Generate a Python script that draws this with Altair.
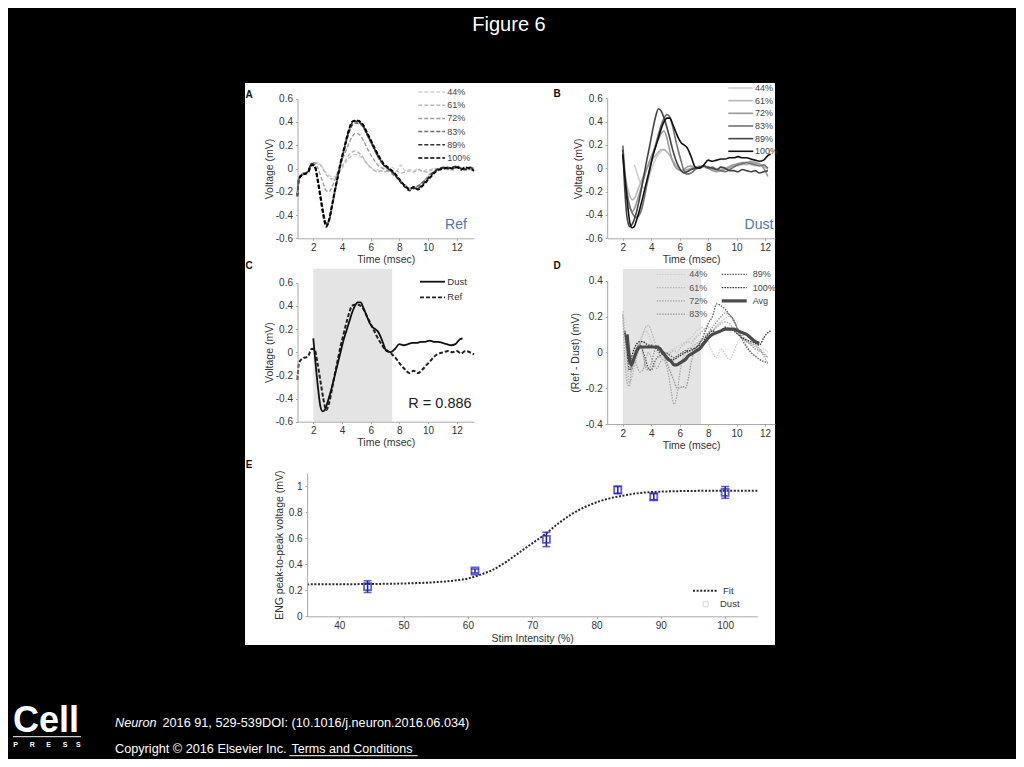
import altair as alt
import pandas as pd

FONT = "Liberation Sans"
W, H = 1008, 751
M = 8

# ---------------- data ----------------
intensities = ["44%", "61%", "72%", "83%", "89%", "100%"]

# Panel A (Ref) - shared time grid (msec)
ref_time = [0.9, 1.0, 1.3, 1.6, 1.9,
            2.1, 2.3, 2.5, 2.7, 2.9, 3.1, 3.3, 3.5, 3.7, 3.9, 4.1, 4.3, 4.5, 4.7, 4.9,
            5.1, 5.3, 5.5, 5.7, 5.9, 6.1, 6.3, 6.5, 6.7, 6.9,
            7.2, 7.5, 7.8, 8.1, 8.4, 8.7, 9.0, 9.3, 9.6, 9.9, 10.2, 10.5, 10.8, 11.1,
            11.4, 11.7, 12.0, 12.3, 12.6, 12.9, 13.2]
ref_44 = [-0.18, -0.07, -0.04, -0.03, 0.04,
          0.05, 0.04, 0.03, 0.0, -0.04, -0.06, -0.07, -0.07, -0.05, -0.02, 0.02, 0.06, 0.09, 0.11, 0.12,
          0.12, 0.1, 0.08, 0.05, 0.02, 0.0, -0.02, -0.01, -0.03, -0.01,
          -0.02, 0.01, -0.02, 0.03, -0.02, -0.01, -0.02, 0.0, -0.03, -0.01, -0.02, 0.0, -0.01, 0.01,
          0.0, -0.02, 0.01, 0.0, 0.02, -0.01, 0.01]
ref_61 = [-0.19, -0.08, -0.04, -0.03, 0.05,
          0.05, 0.05, 0.03, -0.01, -0.05, -0.08, -0.09, -0.08, -0.05, -0.01, 0.04, 0.08, 0.12, 0.14, 0.15,
          0.14, 0.12, 0.09, 0.05, 0.02, 0.0, -0.02, -0.03, -0.02, -0.03,
          -0.02, -0.03, -0.02, -0.04, -0.03, -0.02, -0.03, -0.01, -0.02, -0.03, -0.01, 0.0, -0.02, 0.01,
          -0.01, 0.0, 0.02, -0.01, 0.01, 0.0, -0.01]
ref_72 = [-0.2, -0.08, -0.04, -0.03, 0.05,
          0.05, 0.01, -0.06, -0.13, -0.19, -0.2, -0.16, -0.1, -0.03, 0.04, 0.1, 0.16, 0.22, 0.27, 0.3,
          0.3, 0.28, 0.24, 0.19, 0.14, 0.1, 0.06, 0.03, 0.01, 0.0,
          -0.02, -0.05, -0.08, -0.11, -0.14, -0.17, -0.17, -0.15, -0.12, -0.08, -0.04, -0.02, 0.0, 0.0,
          -0.01, 0.0, 0.01, 0.0, 0.0, -0.01, 0.0]
ref_83 = [-0.22, -0.08, -0.05, -0.03, 0.04,
          0.03, -0.08, -0.22, -0.37, -0.47, -0.44, -0.33, -0.2, -0.08, 0.03, 0.13, 0.23, 0.31, 0.37, 0.39,
          0.39, 0.38, 0.35, 0.3, 0.25, 0.2, 0.15, 0.1, 0.06, 0.03,
          0.0, -0.03, -0.07, -0.11, -0.15, -0.17, -0.16, -0.15, -0.12, -0.09, -0.05, -0.02, 0.0, 0.0,
          0.01, 0.0, 0.01, 0.0, 0.0, 0.01, -0.01]
ref_89 = [-0.23, -0.08, -0.05, -0.03, 0.04,
          0.02, -0.09, -0.24, -0.39, -0.49, -0.45, -0.33, -0.2, -0.08, 0.04, 0.14, 0.24, 0.33, 0.39, 0.41,
          0.4, 0.39, 0.36, 0.31, 0.26, 0.21, 0.16, 0.11, 0.07, 0.03,
          0.0, -0.03, -0.07, -0.12, -0.16, -0.19, -0.17, -0.17, -0.14, -0.1, -0.06, -0.02, 0.0, 0.01,
          0.0, 0.01, 0.02, 0.0, -0.01, 0.01, 0.0]
ref_100 = [-0.24, -0.09, -0.05, -0.04, 0.03,
           0.02, -0.1, -0.25, -0.4, -0.5, -0.44, -0.32, -0.19, -0.07, 0.05, 0.15, 0.25, 0.34, 0.4, 0.41,
           0.41, 0.4, 0.37, 0.32, 0.27, 0.22, 0.17, 0.12, 0.08, 0.04,
           0.01, -0.02, -0.06, -0.11, -0.15, -0.18, -0.16, -0.18, -0.15, -0.11, -0.07, -0.03, -0.01, 0.0,
           0.01, 0.0, 0.01, -0.01, 0.01, 0.0, -0.02]

# Panel B (Dust)
dust_time = [2.0, 2.1, 2.2, 2.35, 2.5, 2.65, 2.8, 2.95,
             3.1, 3.3, 3.5, 3.7, 3.9, 4.1, 4.3, 4.5, 4.7, 4.9, 5.1, 5.3, 5.5, 5.7, 5.9, 6.1, 6.3, 6.5,
             6.8, 7.1, 7.4, 7.7, 8.0, 8.3, 8.6, 8.9, 9.2, 9.5, 9.8, 10.1, 10.4, 10.7, 11.0, 11.3, 11.6,
             11.9, 12.2, 12.4]
dust_44 = [None, None, None, None, None, None, 0.03, -0.02,
           -0.08, -0.14, -0.17, -0.13, -0.05, 0.02, 0.08, 0.12, 0.15, 0.16, 0.14, 0.11, 0.07, 0.03, 0.0, -0.02, -0.03, -0.02,
           0.0, 0.01, 0.02, 0.02, 0.0, -0.01, -0.02, -0.01, 0.0, 0.02, 0.03, 0.02, 0.03, 0.04, 0.03, 0.02, 0.03,
           0.01, 0.0, None]
dust_61 = [0.2, 0.05, -0.08, -0.18, -0.24, -0.27, -0.26, -0.22,
           -0.17, -0.11, -0.05, 0.0, 0.04, 0.08, 0.11, 0.14, 0.16, 0.16, 0.14, 0.11, 0.07, 0.03, 0.0, -0.02, -0.02, -0.01,
           0.0, 0.01, 0.02, 0.01, 0.0, -0.01, -0.02, -0.01, 0.0, 0.01, 0.02, 0.03, 0.04, 0.03, 0.05, 0.04, 0.03,
           0.02, -0.01, None]
dust_72 = [0.1, -0.03, -0.14, -0.26, -0.34, -0.37, -0.35, -0.3,
           -0.24, -0.16, -0.08, 0.0, 0.07, 0.13, 0.19, 0.25, 0.3, 0.32, 0.26, 0.15, 0.06, 0.01, -0.01, -0.02, -0.01, 0.01,
           0.02, 0.0, 0.01, 0.02, 0.0, -0.02, -0.03, -0.02, -0.01, 0.01, 0.03, 0.04, 0.05, 0.05, 0.06, 0.05, 0.04,
           0.0, -0.07, None]
dust_83 = [0.19, 0.0, -0.12, -0.25, -0.33, -0.38, -0.41, -0.42,
           -0.41, -0.36, -0.26, -0.13, -0.01, 0.1, 0.2, 0.29, 0.37, 0.43, 0.46, 0.44, 0.36, 0.25, 0.15, 0.06, -0.02, -0.05,
           -0.04, -0.01, 0.01, 0.02, 0.0, 0.01, -0.01, -0.02, -0.03, -0.01, 0.01, 0.03, 0.04, 0.05, 0.04, 0.03, 0.02,
           0.03, 0.0, None]
dust_89 = [0.16, -0.1, -0.3, -0.46, -0.5, -0.48, -0.44, -0.38,
           -0.3, -0.18, -0.05, 0.08, 0.2, 0.33, 0.44, 0.51, 0.49, 0.43, 0.35, 0.26, 0.16, 0.08, 0.02, -0.02, -0.04, -0.03,
           -0.01, 0.0, 0.01, 0.02, 0.01, 0.0, -0.01, 0.01, 0.0, -0.02, -0.02, -0.03, -0.01, -0.02, -0.03, -0.02, -0.04,
           -0.03, -0.02, None]
dust_100 = [0.12, -0.02, -0.15, -0.33, -0.47, -0.51, -0.5, -0.45,
            -0.39, -0.3, -0.2, -0.1, 0.0, 0.1, 0.18, 0.26, 0.34, 0.4, 0.43, 0.43, 0.38, 0.32, 0.26, 0.22, 0.2, 0.18,
            0.1, 0.01, 0.0, 0.03, 0.07, 0.06, 0.07, 0.08, 0.08, 0.09, 0.09, 0.1, 0.09, 0.09, 0.08, 0.07, 0.06,
            0.07, 0.11, 0.12]

# Panel D (Ref - Dust)
diff_time = [2.0, 2.15, 2.3, 2.45, 2.6,
             2.8, 3.0, 3.2, 3.4, 3.6, 3.8, 4.0, 4.2, 4.4, 4.6, 4.8, 5.0, 5.2, 5.4, 5.6, 5.8, 6.0, 6.2, 6.4,
             6.6, 6.8, 7.0, 7.2, 7.4, 7.6, 7.8, 8.0,
             8.3, 8.6, 8.9, 9.2, 9.5, 9.8, 10.1, 10.4, 10.7, 11.0, 11.3, 11.6, 11.9, 12.2, 12.4]
diff_44 = [0.2, 0.08, -0.05, -0.12, -0.1,
           -0.04, 0.02, 0.06, 0.1, 0.12, 0.1, 0.06, 0.03, 0.0, -0.02, -0.03, -0.01, 0.0, 0.01, 0.02, 0.03, 0.04, 0.05, 0.06,
           0.07, 0.08, 0.1, 0.12, 0.13, 0.14, 0.12, 0.06,
           0.0, -0.03, 0.02, -0.01, -0.04, 0.0, 0.06, 0.08, 0.04, 0.0, -0.02, 0.01, 0.02, 0.0, None]
diff_61 = [0.23, 0.1, -0.06, -0.17, -0.15,
           -0.08, -0.02, 0.04, 0.1, 0.14, 0.15, 0.12, 0.07, 0.02, -0.02, -0.04, -0.03, -0.01, 0.0, 0.01, 0.0, 0.02, 0.04, 0.05,
           0.06, 0.05, 0.07, 0.09, 0.1, 0.12, 0.13, 0.14,
           0.12, 0.15, 0.17, 0.19, 0.2, 0.17, 0.13, 0.1, 0.07, 0.05, 0.03, 0.02, 0.0, -0.03, None]
diff_72 = [0.21, -0.05, -0.17, -0.19, -0.1,
           -0.04, -0.08, -0.11, -0.1, -0.04, 0.0, -0.03, -0.07, -0.09, -0.06, -0.04, -0.06, -0.12, -0.22, -0.29, -0.24, -0.12, -0.04, 0.0,
           0.02, 0.03, 0.04, 0.05, 0.06, 0.07, 0.08, 0.1,
           0.12, 0.14, 0.16, 0.17, 0.16, 0.13, 0.1, 0.08, 0.06, 0.05, 0.04, 0.02, -0.02, -0.06, None]
diff_83 = [None, 0.1, 0.02, -0.06, -0.1,
           -0.05, 0.02, 0.05, 0.0, -0.08, -0.1, -0.06, 0.0, 0.04, 0.03, 0.0, -0.04, -0.08, -0.12, -0.16, -0.2, -0.2, -0.19, -0.2,
           -0.15, -0.06, 0.0, 0.03, 0.05, 0.07, 0.09, 0.11,
           0.14, 0.17, 0.2, 0.22, 0.21, 0.18, 0.13, 0.09, 0.06, 0.04, 0.02, 0.01, -0.01, -0.03, None]
diff_89 = [None, 0.12, 0.0, -0.1, -0.08,
           -0.02, 0.03, 0.04, 0.01, -0.04, -0.09, -0.1, -0.06, -0.03, -0.02, -0.01, 0.0, -0.01, -0.02, -0.03, -0.02, -0.01, 0.0, 0.01,
           0.0, 0.02, 0.02, 0.03, 0.05, 0.08, 0.12, 0.16,
           0.2, 0.27, 0.26, 0.24, 0.21, 0.18, 0.12, 0.07, 0.03, 0.0, -0.02, -0.04, -0.05, -0.06, None]
diff_100 = [None, 0.11, 0.02, -0.06, -0.03,
            0.02, 0.05, 0.06, 0.06, 0.05, 0.04, 0.04, 0.03, 0.02, 0.0, -0.01, -0.02, -0.03, -0.04, -0.04, -0.03, -0.02, -0.01, 0.0,
            0.01, 0.01, 0.02, 0.03, 0.04, 0.05, 0.08, 0.1,
            0.12, 0.11, 0.12, 0.14, 0.13, 0.12, 0.1, 0.08, 0.07, 0.06, 0.05, 0.04, 0.08, 0.11, 0.12]
diff_avg = [None, None, 0.1, -0.02, -0.07,
            -0.03, 0.01, 0.03, 0.03, 0.03, 0.03, 0.03, 0.03, 0.03, 0.02, 0.0, -0.02, -0.04, -0.05, -0.07, -0.07, -0.06, -0.05, -0.04,
            -0.02, -0.01, 0.0, 0.01, 0.02, 0.04, 0.06, 0.08,
            0.1, 0.11, 0.12, 0.13, 0.13, 0.13, 0.12, 0.11, 0.1, 0.08, 0.06, 0.05, None, None, None]

shade_window = [2.0, 7.5]

# Panel E
stim = [44.4, 61.1, 72.2, 83.3, 88.9, 100.0]
amp = [0.228, 0.348, 0.59, 0.97, 0.918, 0.951]
amp_err = [0.045, 0.015, 0.055, 0.028, 0.023, 0.045]
fit_x = [35, 40, 45, 50, 55, 58, 60, 62, 64, 66, 68, 70, 72, 74, 76, 78, 80, 82, 84, 86, 88, 90, 93, 96, 100, 105]
fit_y = [0.245, 0.246, 0.248, 0.252, 0.262, 0.275, 0.29, 0.32, 0.36, 0.42, 0.49, 0.56, 0.63, 0.71, 0.78, 0.835,
         0.875, 0.905, 0.925, 0.942, 0.952, 0.957, 0.961, 0.963, 0.964, 0.964]

# ---------------- helpers ----------------
ONE = pd.DataFrame({"k": [0]})


def px(v):
    return v - M


def txt(x, y, s, size, color="#333333", align="left", weight="normal", style="normal", baseline="middle"):
    return alt.Chart(ONE).mark_text(
        text=s, fontSize=size, color=color, align=align, baseline=baseline,
        fontWeight=weight, fontStyle=style, font=FONT
    ).encode(x=alt.value(px(x)), y=alt.value(px(y)))


def hseg(x0, x1, y, color, width=1.0, dash=None):
    kw = dict(color=color, strokeWidth=width)
    if dash:
        kw["strokeDash"] = dash
    return alt.Chart(ONE).mark_rule(**kw).encode(
        x=alt.value(px(x0)), x2=alt.value(px(x1)), y=alt.value(px(y)))


def sc(domain, r0, r1):
    return alt.Scale(domain=domain, range=[px(r0), px(r1)], nice=False, zero=False)


AX = dict(grid=False, domainColor="#a8a8a8", tickColor="#a8a8a8", tickSize=2, zindex=1,
          labelFont=FONT, labelFontSize=10, labelColor="#333333", labelFlush=False,
          titleFont=FONT, titleFontSize=10.5, titleFontWeight="normal", titleColor="#333333",
          format=".2~f", labelExpr="replace(datum.label, '\u2212', '-')")


def xaxis(ypage, values, title, tpad=2):
    return alt.Axis(orient="bottom", offset=px(ypage) - H, values=values, title=title,
                    titlePadding=tpad, labelPadding=2, **AX)


def yaxis(xpage, values, title, tpad=1):
    return alt.Axis(orient="left", offset=-px(xpage), values=values, title=title,
                    titlePadding=tpad, labelPadding=3, **AX)


def line_layer(t, v, xs, ys, color, width, xa, ya, dash=None, interp="monotone"):
    df = pd.DataFrame({"t": t, "v": v})
    kw = dict(color=color, strokeWidth=width, interpolate=interp)
    if dash:
        kw["strokeDash"] = dash
    return alt.Chart(df).mark_line(**kw).encode(
        x=alt.X("t:Q", scale=xs, axis=xa),
        y=alt.Y("v:Q", scale=ys, axis=ya))


def shade_layer(xs, ys, y0, y1, xa, ya):
    df = pd.DataFrame({"t": [shade_window[0]], "t1": [shade_window[1]], "v": [y0], "v1": [y1]})
    return alt.Chart(df).mark_rect(color="#e4e4e4").encode(
        x=alt.X("t:Q", scale=xs, axis=xa), x2="t1:Q",
        y=alt.Y("v:Q", scale=ys, axis=ya), y2="v1:Q")


volt_ticks = [-0.6, -0.4, -0.2, 0, 0.2, 0.4, 0.6]
time_ticks = [2, 4, 6, 8, 10, 12]

# ---------------- panel A ----------------
sxA = sc([0.9, 13.2], 297.5, 474.0)
syA = sc([-0.6, 0.6], 238.3, 98.7)
xaA = xaxis(238.3, time_ticks, "Time (msec)")
yaA = yaxis(297.5, volt_ticks, "Voltage (mV)", 1)
ref_series = [ref_44, ref_61, ref_72, ref_83, ref_89, ref_100]
A_colors = ["#cfcfcf", "#b8b8b8", "#9c9c9c", "#6c6c6c", "#333333", "#000000"]
A_widths = [1.4, 1.4, 1.4, 1.6, 1.8, 2.0]
panelA = alt.layer(*[
    line_layer(ref_time, s, sxA, syA, A_colors[i], A_widths[i], xaA, yaA, dash=[4, 2])
    for i, s in enumerate(ref_series)])

# ---------------- panel B ----------------
sxB = sc([0.9, 12.7], 607.2, 775.0)
syB = sc([-0.6, 0.6], 238.3, 98.3)
xaB = xaxis(238.3, time_ticks, "Time (msec)")
yaB = yaxis(607.2, volt_ticks, "Voltage (mV)", 1.5)
dust_series = [dust_44, dust_61, dust_72, dust_83, dust_89, dust_100]
B_colors = ["#cfcfcf", "#b6b6b6", "#9a9a9a", "#727272", "#444444", "#111111"]
panelB = alt.layer(*[
    line_layer(dust_time, s, sxB, syB, B_colors[i], 1.6, xaB, yaB)
    for i, s in enumerate(dust_series)])

# ---------------- panel C ----------------
sxC = sc([0.9, 13.2], 297.5, 474.0)
syC = sc([-0.6, 0.6], 421.7, 282.7)
xaC = xaxis(421.7, time_ticks, "Time (msec)")
yaC = yaxis(297.5, volt_ticks, "Voltage (mV)", 1)
panelC = alt.layer(
    shade_layer(sxC, syC, -0.6, 0.72, xaC, yaC),
    line_layer(ref_time, ref_100, sxC, syC, "#222222", 2.0, xaC, yaC, dash=[4, 2]),
    line_layer(dust_time, dust_100, sxC, syC, "#111111", 1.8, xaC, yaC),
)

# ---------------- panel D ----------------
sxD = sc([0.9, 12.7], 607.2, 775.0)
syD = sc([-0.4, 0.4], 424.0, 280.7)
xaD = xaxis(424.0, time_ticks, "Time (msec)")
yaD = yaxis(607.2, [-0.4, -0.2, 0, 0.2, 0.4], "(Ref - Dust) (mV)", 4.5)
diff_series = [diff_44, diff_61, diff_72, diff_83, diff_89, diff_100]
D_colors = ["#cccccc", "#bbbbbb", "#a9a9a9", "#979797", "#5a5a5a", "#2a2a2a"]
layersD = [shade_layer(sxD, syD, -0.4, 0.465, xaD, yaD)]
for i, s in enumerate(diff_series):
    layersD.append(line_layer(diff_time, s, sxD, syD, D_colors[i], 1.3, xaD, yaD, dash=[1.5, 1.2]))
layersD.append(line_layer(diff_time, diff_avg, sxD, syD, "#4a4a4a", 3.2, xaD, yaD))
panelD = alt.layer(*layersD)

# ---------------- panel E ----------------
sxE = sc([35, 105], 307.15, 757.3)
syE = sc([0, 1.1], 616.3, 473.0)
xaE = xaxis(616.3, [40, 50, 60, 70, 80, 90, 100], "Stim Intensity (%)", 3)
yaE = yaxis(307.15, [0, 0.2, 0.4, 0.6, 0.8, 1], "ENG peak-to-peak voltage (mV)", 4)
dfE = pd.DataFrame({"t": stim, "v": amp, "err": amp_err})
dfE["lo"] = dfE["v"] - dfE["err"]
dfE["hi"] = dfE["v"] + dfE["err"]
BLUE = "#1f1fc4"
fitE = line_layer(fit_x, fit_y, sxE, syE, "#2a2a2a", 2.0, xaE, yaE, dash=[2, 1.6])
barsE = alt.Chart(dfE).mark_rule(color=BLUE, strokeWidth=1.6).encode(
    x=alt.X("t:Q", scale=sxE, axis=xaE),
    y=alt.Y("lo:Q", scale=syE, axis=yaE), y2="hi:Q")
capLo = alt.Chart(dfE).mark_tick(color=BLUE, orient="horizontal", size=8, thickness=1.6).encode(
    x=alt.X("t:Q", scale=sxE, axis=xaE), y=alt.Y("lo:Q", scale=syE, axis=yaE))
capHi = alt.Chart(dfE).mark_tick(color=BLUE, orient="horizontal", size=8, thickness=1.6).encode(
    x=alt.X("t:Q", scale=sxE, axis=xaE), y=alt.Y("hi:Q", scale=syE, axis=yaE))
ptsE = alt.Chart(dfE).mark_point(shape="square", filled=False, size=50, strokeWidth=1.8, color=BLUE).encode(
    x=alt.X("t:Q", scale=sxE, axis=xaE), y=alt.Y("v:Q", scale=syE, axis=yaE))
panelE = alt.layer(fitE, barsE, capLo, capHi, ptsE)

# ---------------- decorations ----------------
bg = alt.Chart(ONE).mark_rect(color="white").encode(
    x=alt.value(px(245)), x2=alt.value(px(775)), y=alt.value(px(83)), y2=alt.value(px(645)))

deco = [
    txt(509, 24.5, "Figure 6", 20, color="white", align="center"),
    txt(13, 732, "Cell", 36, color="white", weight="bold", baseline="alphabetic"),
    hseg(13, 81, 736.7, "white", 1.0),
    txt(115, 723.3, "Neuron", 12.7, color="white", style="italic"),
    txt(162.5, 723.3, "2016 91, 529-539DOI: (10.1016/j.neuron.2016.06.034)", 12.7, color="white"),
    txt(115, 749, "Copyright \u00a9 2016 Elsevier Inc.", 12.7, color="white"),
    txt(291.5, 749, "Terms and Conditions", 12.5, color="white"),
    hseg(289.3, 417.7, 755.7, "white", 1.0),
]
for letter, lx in zip(["P", "R", "E", "S", "S"], [15.7, 32.3, 48.7, 65.0, 78.3]):
    deco.append(txt(lx, 745, letter, 7, color="white", align="center", weight="bold"))

labels = [
    txt(249, 94.5, "A", 10, color="#111111", align="center", weight="bold"),
    txt(557, 94, "B", 10, color="#111111", align="center", weight="bold"),
    txt(249, 266, "C", 10, color="#111111", align="center", weight="bold"),
    txt(557, 266, "D", 10, color="#111111", align="center", weight="bold"),
    txt(249, 465, "E", 10, color="#111111", align="center", weight="bold"),
    txt(456, 225, "Ref", 14, color="#4f74b8", align="center"),
    txt(759, 225, "Dust", 14, color="#4f74b8", align="center"),
    txt(440, 404, "R = 0.886", 14.5, color="#222222", align="center"),
]

legends = []
for i, lab in enumerate(intensities):
    ya_ = 92 + 13.2 * i
    legends.append(hseg(418.3, 445, ya_, A_colors[i], 1.5, [4, 2]))
    legends.append(txt(447.3, ya_, lab, 9, color="#444444"))
    yb_ = 88 + 12.66 * i
    legends.append(hseg(728.3, 753.3, yb_, B_colors[i], 1.6))
    legends.append(txt(755.0, yb_, lab, 9, color="#444444"))
legends += [
    hseg(420, 445, 281.7, "#111111", 1.8),
    txt(447.3, 281.7, "Dust", 9.5, color="#333333"),
    hseg(420, 445, 297.3, "#222222", 1.8, [4, 2]),
    txt(447.3, 297.3, "Ref", 9.5, color="#333333"),
]
for i in range(4):
    yd = 274.3 + 13.3 * i
    legends.append(hseg(656.7, 685, yd, D_colors[i], 1.2, [1.5, 1.2]))
    legends.append(txt(689.3, yd, intensities[i], 9, color="#555555"))
for j, lab in enumerate(["89%", "100%", "Avg"]):
    yd = 274.3 + 13.3 * j
    if lab == "Avg":
        legends.append(hseg(721.7, 746.7, yd, "#4a4a4a", 3.2))
    else:
        legends.append(hseg(721.7, 746.7, yd, D_colors[4 + j], 1.2, [1.5, 1.2]))
    legends.append(txt(752.7, yd, lab, 9, color="#444444"))
legends += [
    hseg(693, 718, 590.7, "#2a2a2a", 2.0, [2, 1.6]),
    txt(723, 590.7, "Fit", 9.5, color="#333333"),
    alt.Chart(ONE).mark_point(shape="square", filled=False, size=24, strokeWidth=1, color="#c4c4c4").encode(
        x=alt.value(px(705.7)), y=alt.value(px(604.3))),
    txt(720, 604.3, "Dust", 9.5, color="#333333"),
]

chart = alt.layer(
    bg, *deco, panelA, panelB, panelC, panelD, panelE, *legends, *labels
).resolve_scale(
    x="independent", y="independent"
).properties(
    width=W, height=H, background="black", padding=0,
    autosize=alt.AutoSizeParams(type="none")
).configure_view(stroke=None)

chart.save("out.html", embed_options={"renderer": "svg", "actions": False})
